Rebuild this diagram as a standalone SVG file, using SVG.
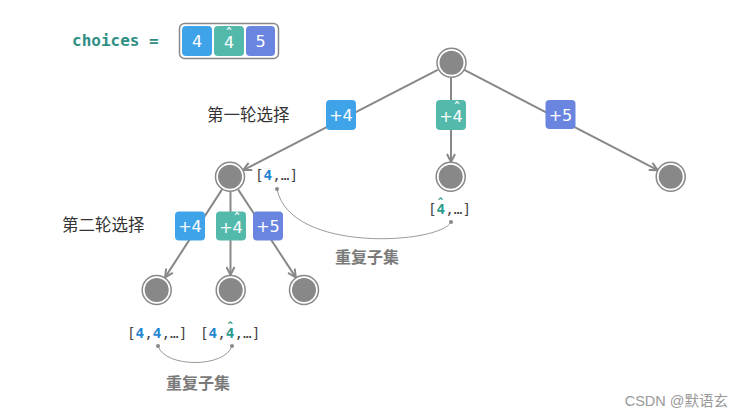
<svg xmlns="http://www.w3.org/2000/svg" width="743" height="418" viewBox="0 0 743 418">
<style>
.edge{stroke:#888;stroke-width:2;fill:none}
.curve{stroke:#9a9a9a;stroke-width:1;fill:none}
.dot{fill:#8a8a8a}
.ring{fill:#fff;stroke:#888;stroke-width:1.5}
.core{fill:#888}
.bl{fill:#3fa3ea}.tl{fill:#52b9ab}.pu{fill:#6a85e0}
.bt{font-family:"DejaVu Sans",sans-serif;font-size:16px;fill:#fff;text-anchor:middle}
.hw{font-family:"DejaVu Sans",sans-serif;font-size:15px;fill:#fff;text-anchor:middle}
.ht{font-family:"DejaVu Sans",sans-serif;font-size:13px;fill:#2a9a8c;text-anchor:middle;font-weight:bold}
.cn{font-family:"Noto Sans CJK SC",sans-serif;font-size:16.5px;fill:#333}
.dup{font-family:"Noto Sans CJK SC",sans-serif;font-size:16px;font-weight:bold;fill:#7a7a7a;text-anchor:middle}
.lst{font-family:"DejaVu Sans Mono",monospace;font-size:14.3px;fill:#444}
.b4{fill:#1f86d3;font-weight:bold}.t4{fill:#2a9a8c;font-weight:bold}
</style>
<defs>
<marker id="arr" markerUnits="userSpaceOnUse" viewBox="0 0 10 10" refX="9" refY="5" markerWidth="10" markerHeight="10" orient="auto">
<path d="M1,1 L9,5 L1,9" fill="none" stroke="#888" stroke-width="2"/>
</marker>
<g id="nd"><circle class="ring" r="14.5"/><circle class="core" r="12"/></g>
</defs>

<g id="choices">
<text x="72" y="46" font-family="DejaVu Sans Mono,monospace" font-size="16" font-weight="bold" fill="#2f8f85">choices =</text>
<rect x="179.5" y="23.5" width="99" height="35" rx="5" fill="#fff" stroke="#888" stroke-width="1.5"/>
<rect class="bl" x="182" y="26" width="30" height="30" rx="4"/>
<rect class="tl" x="214" y="26" width="30" height="30" rx="4"/>
<rect class="pu" x="246" y="26" width="29" height="30" rx="4"/>
<text class="bt" x="197" y="47">4</text>
<text class="bt" x="229" y="47.5">4</text>
<text class="hw" x="229" y="40">ˆ</text>
<text class="bt" x="260.5" y="47">5</text>
</g>

<g id="connectors">
<line class="edge" x1="437.7" y1="69.9" x2="243.3" y2="170.1" marker-end="url(#arr)"/>
<line class="edge" x1="451" y1="78" x2="451" y2="162" marker-end="url(#arr)"/>
<line class="edge" x1="464.3" y1="69.9" x2="657.7" y2="170.1" marker-end="url(#arr)"/>
<line class="edge" x1="221.9" y1="189.6" x2="165.1" y2="277.4" marker-end="url(#arr)"/>
<line class="edge" x1="230.5" y1="192" x2="230.5" y2="275" marker-end="url(#arr)"/>
<line class="edge" x1="238.2" y1="189.6" x2="295.8" y2="277.4" marker-end="url(#arr)"/>
<path class="curve" d="M277,189 C290,254 440,244 451,222"/>
<circle class="dot" cx="277" cy="189" r="2"/>
<circle class="dot" cx="451" cy="222" r="2"/>
<path class="curve" d="M158,346 C165,368 225,368 232,346"/>
<circle class="dot" cx="158" cy="346" r="2"/>
<circle class="dot" cx="232" cy="346" r="2"/>
</g>

<g id="root"><use href="#nd" x="451.5" y="62.7"/></g>
<g id="n1a"><use href="#nd" x="230" y="176.7"/></g>
<g id="n1b"><use href="#nd" x="450.7" y="176.7"/></g>
<g id="n1c"><use href="#nd" x="670.7" y="176.7"/></g>
<g id="n2a"><use href="#nd" x="156.7" y="290"/></g>
<g id="n2b"><use href="#nd" x="230.7" y="290"/></g>
<g id="n2c"><use href="#nd" x="304" y="290"/></g>

<g id="c1a"><rect class="bl" x="326" y="100" width="30" height="30" rx="4"/><text class="bt" x="341" y="121">+4</text></g>
<g id="c1b"><rect class="tl" x="436" y="100" width="30" height="30" rx="4"/><text class="bt" x="451" y="121.5">+4</text><text class="hw" x="457" y="114">ˆ</text></g>
<g id="c1c"><rect class="pu" x="545.5" y="100" width="30" height="29" rx="4"/><text class="bt" x="560.5" y="121">+5</text></g>
<g id="c2a"><rect class="bl" x="175" y="211.5" width="30" height="29" rx="4"/><text class="bt" x="190" y="232">+4</text></g>
<g id="c2b"><rect class="tl" x="216" y="211.5" width="30" height="29" rx="4"/><text class="bt" x="231" y="232.5">+4</text><text class="hw" x="237" y="225">ˆ</text></g>
<g id="c2c"><rect class="pu" x="253" y="211.5" width="30" height="29" rx="4"/><text class="bt" x="268" y="232">+5</text></g>

<g id="labels">
<text class="cn" x="207" y="121">第一轮选择</text>
<text class="cn" x="62" y="231">第二轮选择</text>
<text class="lst" x="255" y="180">[<tspan class="b4">4</tspan>,…]</text>
<text class="lst" x="428" y="214">[<tspan class="t4">4</tspan>,…]</text>
<text class="ht" x="440.6" y="208">ˆ</text>
<text class="lst" x="127" y="338">[<tspan class="b4">4</tspan>,<tspan class="b4">4</tspan>,…]</text>
<text class="lst" x="200" y="338">[<tspan class="b4">4</tspan>,<tspan class="t4">4</tspan>,…]</text>
<text class="ht" x="230.3" y="332">ˆ</text>
<text class="dup" x="367" y="263">重复子集</text>
<text class="dup" x="198" y="389">重复子集</text>
<text x="728" y="406" text-anchor="end" font-family="Liberation Sans,Noto Sans CJK SC,sans-serif" font-size="14.5" fill="#999">CSDN @默语玄</text>
</g>
</svg>
